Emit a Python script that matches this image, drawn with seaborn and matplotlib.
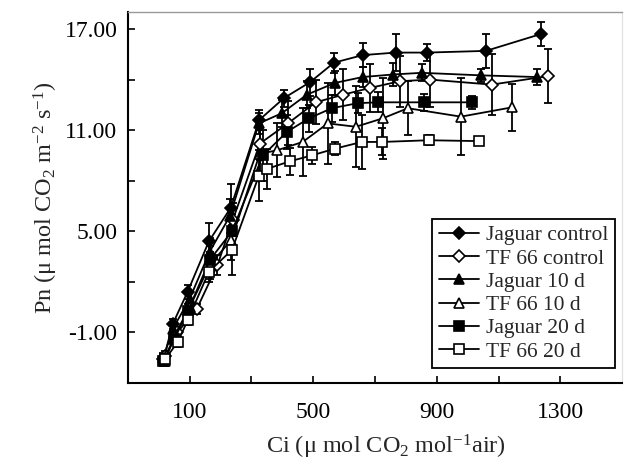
import matplotlib
matplotlib.use("Agg")
import matplotlib.pyplot as plt
import seaborn as sns

# Ci values (x), Pn values (y) and error bars for each treatment
jc_x = [15, 45, 93, 162, 233, 325, 405, 490, 567, 660, 767, 868, 1059, 1237]
jc_y = [-2.6, -0.5, 1.4, 4.4, 6.4, 11.6, 12.9, 13.85, 15.0, 15.45, 15.6, 15.6, 15.7, 16.7]
jc_e = [0.3, 0.3, 0.4, 1.1, 1.4, 0.6, 0.5, 0.8, 0.6, 0.7, 1.1, 0.5, 1.0, 0.7]

tc_x = [20, 60, 123, 190, 240, 327, 418, 508, 596, 683, 780, 877, 1078, 1259]
tc_y = [-2.4, -1.0, 0.4, 3.0, 5.7, 10.2, 11.4, 12.65, 13.1, 13.5, 13.9, 14.0, 13.7, 14.2]
tc_e = [0.3, 0.3, 0.3, 0.6, 1.0, 1.0, 1.3, 1.3, 1.5, 1.4, 1.5, 1.6, 1.8, 1.6]

j10_x = [15, 45, 100, 165, 230, 324, 398, 479, 570, 660, 758, 851, 1042, 1223]
j10_y = [-2.5, -0.8, 1.0, 3.8, 5.9, 11.4, 12.0, 13.1, 13.8, 14.15, 14.3, 14.4, 14.25, 14.15]
j10_e = [0.3, 0.3, 0.4, 0.8, 1.0, 0.6, 0.8, 0.8, 0.7, 0.6, 0.7, 0.5, 0.4, 0.5]

t10_x = [20, 50, 100, 165, 235, 327, 382, 466, 547, 638, 725, 806, 978, 1143]
t10_y = [-2.7, -1.2, 0.5, 3.0, 4.5, 9.6, 9.8, 10.3, 11.4, 11.2, 11.7, 12.3, 11.8, 12.35]
t10_e = [0.3, 0.3, 0.4, 0.8, 1.2, 1.5, 1.6, 2.0, 2.4, 2.4, 2.4, 1.6, 2.3, 1.4]

j20_x = [15, 50, 95, 165, 237, 337, 415, 486, 560, 644, 709, 858, 1013]
j20_y = [-2.7, -1.4, 0.3, 3.3, 5.0, 9.5, 10.9, 11.7, 12.3, 12.6, 12.65, 12.65, 12.65]
j20_e = [0.3, 0.3, 0.4, 0.8, 1.0, 1.5, 1.0, 0.8, 0.8, 0.6, 0.6, 0.5, 0.4]

t20_x = [20, 62, 94, 162, 237, 324, 350, 424, 495, 570, 657, 722, 874, 1036]
t20_y = [-2.6, -1.55, -0.25, 2.6, 3.9, 8.3, 8.7, 9.15, 9.5, 9.9, 10.3, 10.3, 10.4, 10.35]
t20_e = [0.3, 0.3, 0.3, 0.6, 1.5, 1.5, 1.2, 0.8, 0.5, 0.4, 1.6, 0.8, 0.3, 0.2]

labels = ["Jaguar control", "TF 66 control", "Jaguar 10 d", "TF 66 10 d", "Jaguar 20 d", "TF 66 20 d"]
series = [(jc_x, jc_y, jc_e), (tc_x, tc_y, tc_e), (j10_x, j10_y, j10_e),
          (t10_x, t10_y, t10_e), (j20_x, j20_y, j20_e), (t20_x, t20_y, t20_e)]
markers = ["D", "D", "^", "^", "s", "s"]
faces = ["black", "white", "black", "white", "black", "white"]
msizes = [6.5, 6.5, 7.5, 7.5, 7, 7.5]

sns.set_style("ticks")
plt.rcParams["font.family"] = ["Liberation Serif", "DejaVu Serif"]
plt.rcParams["mathtext.fontset"] = "custom"
plt.rcParams["mathtext.rm"] = "Liberation Serif"
plt.rcParams["mathtext.it"] = "Liberation Serif:italic"

fig = plt.figure(figsize=(6.24, 4.66), dpi=100)
ax = fig.add_axes([0.205, 0.178, 0.792, 0.796])

for (x, y, e), lab, m, fc, ms in zip(series, labels, markers, faces, msizes):
    ax.errorbar(x, y, yerr=e, fmt="none", ecolor="black", elinewidth=1.3,
                capsize=3, capthick=1.3, zorder=2)
    sns.lineplot(x=x, y=y, ax=ax, color="black", linewidth=1.3, marker=m,
                 markersize=ms, markerfacecolor=fc, markeredgecolor="black",
                 markeredgewidth=1.2, label=lab, zorder=3)

ax.set_xlim(-100, 1500)
ax.set_ylim(-4, 18)
ax.set_xticks([100, 500, 900, 1300])
ax.set_xticks([300, 700, 1100], minor=True)
ax.set_yticks([-1, 5, 11, 17])
ax.set_yticks([2, 8, 14], minor=True)
ax.set_yticklabels(["-1.00", "5.00", "11.00", "17.00"])
ax.tick_params(which="both", direction="in", length=5, width=1.2, labelsize=17,
               colors="black")
ax.tick_params(axis="x", which="both", pad=14)
ax.tick_params(axis="y", which="both", pad=7.5)

ax.set_xlabel("Ci (μ mol CO$_2$ mol$^{-1}$air)", fontsize=17.5, labelpad=2)
ax.xaxis.set_label_coords(0.522, -0.135)
ax.set_ylabel("Pn (μ mol CO$_2$ m$^{-2}$ s$^{-1}$)", fontsize=17.5, labelpad=3)

for side in ["left", "bottom"]:
    ax.spines[side].set_color("black")
    ax.spines[side].set_linewidth(1.5)
ax.spines["top"].set_color("#999999")
ax.spines["top"].set_linewidth(1.0)
ax.spines["right"].set_color("#e0e0e0")
ax.spines["right"].set_linewidth(0.8)

leg = ax.legend(loc="lower right", bbox_to_anchor=(0.985, 0.04), fontsize=15.5,
                frameon=True, fancybox=False, edgecolor="black", framealpha=1,
                handlelength=1.9, handletextpad=0.3, labelspacing=0.15,
                borderpad=0.3, borderaxespad=0)
leg.get_frame().set_linewidth(1.3)

fig.savefig("out.png", dpi=100)
